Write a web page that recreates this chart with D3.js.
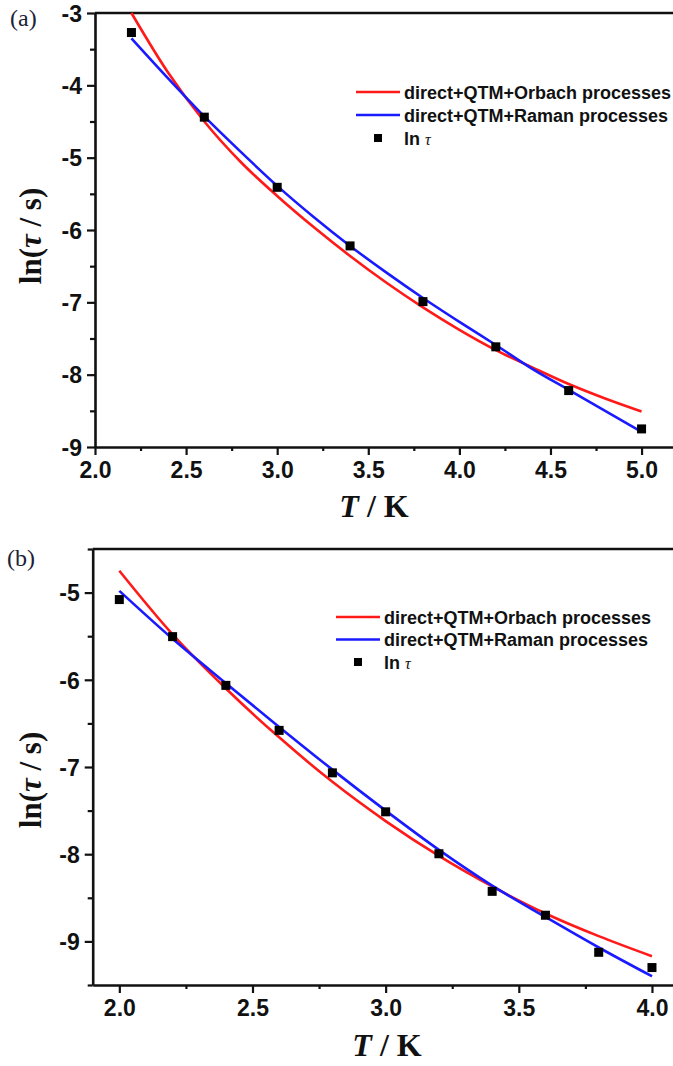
<!DOCTYPE html>
<html>
<head>
<meta charset="utf-8">
<script src="https://cdn.jsdelivr.net/npm/d3@7"></script>
<style>
  html, body { margin: 0; padding: 0; background: #fff; }
  svg { display: block; }
  .tick text { font-family: "Liberation Sans", Arial, sans-serif; font-weight: bold; font-size: 23px; fill: #111; }
  .domain { stroke: #111; stroke-width: 2.6px; }
  .tick line { stroke: #111; stroke-width: 2.2px; }
</style>
</head>
<body>
<script>
// Panel (a): relaxation times, 2.2–5.0 K
const tempA = [2.2, 2.6, 3.0, 3.4, 3.8, 4.2, 4.6, 5.0];
const lnTauA = [-3.27, -4.44, -5.41, -6.22, -6.99, -7.615, -8.22, -8.75];
const fitTempA = [2.2, 2.4, 2.6, 2.8, 3.0, 3.2, 3.4, 3.6, 3.8, 4.0, 4.2, 4.4, 4.6, 4.8, 5.0];
const orbachA = [-3.00, -3.82, -4.50, -5.06, -5.53, -5.96, -6.36, -6.73, -7.07, -7.38, -7.66, -7.90, -8.13, -8.33, -8.51];
const ramanA  = [-3.35, -3.90, -4.43, -4.92, -5.39, -5.82, -6.22, -6.59, -6.94, -7.27, -7.59, -7.92, -8.21, -8.50, -8.79];

// Panel (b): relaxation times, 2.0–4.0 K
const tempB = [2.0, 2.2, 2.4, 2.6, 2.8, 3.0, 3.2, 3.4, 3.6, 3.8, 4.0];
const lnTauB = [-5.08, -5.505, -6.064, -6.58, -7.067, -7.514, -7.995, -8.426, -8.70, -9.125, -9.30];
const fitTempB = [2.0, 2.2, 2.4, 2.6, 2.8, 3.0, 3.2, 3.4, 3.6, 3.8, 4.0];
const orbachB = [-4.75, -5.48, -6.10, -6.66, -7.17, -7.62, -8.02, -8.37, -8.68, -8.94, -9.17];
const ramanB  = [-4.98, -5.53, -6.04, -6.54, -7.03, -7.50, -7.95, -8.36, -8.72, -9.07, -9.40];

// Axis ticks
const xMajorA = [2.0, 2.5, 3.0, 3.5, 4.0, 4.5, 5.0];
const xMinorA = [2.25, 2.75, 3.25, 3.75, 4.25, 4.75];
const yMajorA = [-9, -8, -7, -6, -5, -4, -3];
const yMinorA = [-8.5, -7.5, -6.5, -5.5, -4.5, -3.5];
const xMajorB = [2.0, 2.5, 3.0, 3.5, 4.0];
const xMinorB = [2.25, 2.75, 3.25, 3.75];
const yMajorB = [-9, -8, -7, -6, -5];
const yMinorB = [-9.5, -8.5, -7.5, -6.5, -5.5, -4.5];

const legendLabels = ["direct+QTM+Orbach processes", "direct+QTM+Raman processes"];
const RED = "#ff1a1a", BLUE = "#1a1aff";

const W = 673, H = 1066;
const svg = d3.select("body").append("svg").attr("width", W).attr("height", H);

// plain hyphen-minus labels
const fmtX = d => d.toFixed(1);
const fmtY = d => String(d);

function panel(cfg) {
  const g = svg.append("g");
  const x = d3.scaleLinear().domain(cfg.xDomain).range(cfg.xRange);
  const y = d3.scaleLinear().domain(cfg.yDomain).range(cfg.yRange);
  const [top, bottom] = [cfg.yRange[1], cfg.yRange[0]];
  const [left, right] = cfg.xRange;

  // frame (top and right edges)
  g.append("path")
    .attr("d", `M${left},${top}H${right}V${bottom}`)
    .attr("fill", "none").attr("stroke", "#111").attr("stroke-width", 2.6);

  // minor ticks
  g.append("g").attr("transform", `translate(0,${bottom})`)
    .call(d3.axisBottom(x).tickValues(cfg.xMinor).tickSize(4).tickFormat(""))
    .call(a => a.select(".domain").remove());
  g.append("g").attr("transform", `translate(${left},0)`)
    .call(d3.axisLeft(y).tickValues(cfg.yMinor).tickSize(5).tickFormat(""))
    .call(a => a.select(".domain").remove());

  // major ticks and labels
  g.append("g").attr("transform", `translate(0,${bottom})`)
    .call(d3.axisBottom(x).tickValues(cfg.xMajor).tickSize(8).tickSizeOuter(0).tickPadding(7).tickFormat(fmtX));
  g.append("g").attr("transform", `translate(${left},0)`)
    .call(d3.axisLeft(y).tickValues(cfg.yMajor).tickSize(8).tickSizeOuter(0).tickPadding(5).tickFormat(fmtY))
    .call(a => a.selectAll(".tick text").attr("dy", "0.36em"));

  // fitted curves
  const line = d3.line().x(d => x(d[0])).y(d => y(d[1])).curve(d3.curveMonotoneX);
  [[cfg.orbach, RED], [cfg.raman, BLUE]].forEach(([vals, col]) => {
    g.append("path")
      .datum(cfg.fitTemp.map((t, i) => [t, vals[i]]))
      .attr("d", line).attr("fill", "none").attr("stroke", col).attr("stroke-width", 2.6);
  });

  // measured points
  g.selectAll("rect.pt").data(cfg.temp.map((t, i) => [t, cfg.lnTau[i]])).enter()
    .append("rect").attr("class", "pt")
    .attr("x", d => x(d[0]) - 4.5).attr("y", d => y(d[1]) - 4.5)
    .attr("width", 9).attr("height", 9).attr("fill", "#000");

  // legend
  const L = cfg.legend;
  [RED, BLUE].forEach((col, i) => {
    const yy = L.y + i * L.dy;
    g.append("line").attr("x1", L.x).attr("x2", L.x + 44).attr("y1", yy).attr("y2", yy)
      .attr("stroke", col).attr("stroke-width", 2.6);
    g.append("text").attr("x", L.x + 48).attr("y", yy + 6.5)
      .attr("font-family", "Liberation Sans, Arial, sans-serif").attr("font-weight", "bold")
      .attr("font-size", 18).attr("fill", "#111").text(legendLabels[i]);
  });
  const yy = L.y + 2 * L.dy;
  g.append("rect").attr("x", L.x + 22 - 4).attr("y", yy - 4).attr("width", 8).attr("height", 8).attr("fill", "#000");
  const lt = g.append("text").attr("x", L.x + 48).attr("y", yy + 6.5)
    .attr("font-family", "Liberation Sans, Arial, sans-serif").attr("font-weight", "bold")
    .attr("font-size", 18).attr("fill", "#111");
  lt.append("tspan").text("ln ");
  lt.append("tspan").attr("font-family", "Liberation Serif, Times New Roman, serif")
    .attr("font-style", "italic").attr("font-weight", "normal").attr("font-size", 16).text("τ");

  // axis titles
  const yt = g.append("text")
    .attr("transform", `translate(${cfg.yTitle[0]},${cfg.yTitle[1]}) rotate(-90)`)
    .attr("text-anchor", "middle")
    .attr("font-family", "Liberation Serif, Times New Roman, serif").attr("font-weight", "bold")
    .attr("font-size", 31).attr("fill", "#111");
  yt.append("tspan").text("ln(");
  yt.append("tspan").attr("font-style", "italic").text("τ");
  yt.append("tspan").text(" / s)");

  const xt = g.append("text")
    .attr("x", cfg.xTitle[0]).attr("y", cfg.xTitle[1]).attr("text-anchor", "middle")
    .attr("font-family", "Liberation Serif, Times New Roman, serif").attr("font-weight", "bold")
    .attr("font-size", 32).attr("fill", "#111");
  xt.append("tspan").attr("font-style", "italic").text("T");
  xt.append("tspan").text(" / K");

  // panel label
  g.append("text").attr("x", cfg.label[0]).attr("y", cfg.label[1])
    .attr("font-family", "Liberation Serif, Times New Roman, serif")
    .attr("font-size", 24).attr("fill", "#1c2236").text(cfg.labelText);
}

panel({
  xDomain: [2.0, 5.2], xRange: [95, 678],
  yDomain: [-9, -3], yRange: [447, 13],
  xMajor: xMajorA, xMinor: xMinorA, yMajor: yMajorA, yMinor: yMinorA,
  temp: tempA, lnTau: lnTauA, fitTemp: fitTempA, orbach: orbachA, raman: ramanA,
  legend: { x: 356, y: 92, dy: 23 },
  yTitle: [41, 236], xTitle: [374, 517], label: [10, 26], labelText: "(a)"
});

panel({
  xDomain: [1.9, 4.1], xRange: [92.7, 678.6],
  yDomain: [-9.5, -4.5], yRange: [985, 549],
  xMajor: xMajorB, xMinor: xMinorB, yMajor: yMajorB, yMinor: yMinorB,
  temp: tempB, lnTau: lnTauB, fitTemp: fitTempB, orbach: orbachB, raman: ramanB,
  legend: { x: 336, y: 617, dy: 22.5 },
  yTitle: [41, 780], xTitle: [387, 1056], label: [7, 566], labelText: "(b)"
});
</script>
</body>
</html>
